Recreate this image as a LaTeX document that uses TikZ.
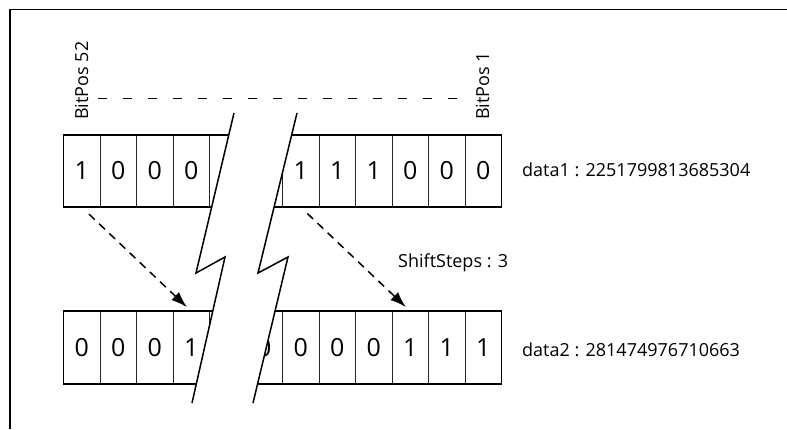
\documentclass[tikz,border=0pt]{standalone}
\usepackage{fontspec}
\setmainfont{Open Sans}
\usetikzlibrary{arrows.meta}
\begin{document}
\begin{tikzpicture}[x=1pt,y=-1pt,
  cell/.style={draw=black!85,line width=0.9pt,minimum width=36.5pt,minimum height=72.5pt,inner sep=0pt,outer sep=0pt,font=\fontsize{25}{30}\selectfont},
  outerbox/.style={line width=1.8pt},
  brk/.style={line width=1.5pt,line join=miter},
  dasharrow/.style={line width=1.5pt,dash pattern=on 8pt off 6pt,-{Latex[length=16pt,width=11pt]}},
  lbl/.style={font=\fontsize{18}{22}\selectfont,inner sep=0pt,anchor=base west},
  poslbl/.style={font=\fontsize{18}{22}\selectfont,inner sep=0pt,rotate=90,anchor=base west}
  ]
\useasboundingbox (0,0) rectangle (787,429);
% frame
\draw[line width=1.6pt] (10,429) -- (10,9.5) -- (787,9.5);
% top array
\foreach \v [count=\i] in {1,0,0,0,{},{},1,1,1,0,0,0}
  \node[cell] (t\i) at ({63.5+36.5*(\i-0.5)},171) {\v};
\draw[outerbox] (t1.north west) rectangle (t12.south east);
% bottom array
\foreach \v [count=\i] in {0,0,0,1,{},0,0,0,0,1,1,1}
  \node[cell] (b\i) at ({63.5+36.5*(\i-0.5)},347.5) {\v};
\draw[outerbox] (b1.north west) rectangle (b12.south east);
% break gap
\fill[white] (234,113) -- (196,273) -- (225,257) -- (192,403) -- (253,403) -- (288,257) -- (258,273) -- (297,113) -- cycle;
\draw[brk] (234,113) -- (196,273) -- (225,257) -- (192,403);
\draw[brk] (297,113) -- (258,273) -- (288,257) -- (253,403);
% bit position guide
\node[poslbl] (bp52) at (88,120) {BitPos 52};
\node[poslbl] (bp1) at (489,120) {BitPos 1};
\coordinate (gl) at (98,98.5);
\coordinate (gr) at (466,98.5);
\draw[line width=0.9pt,dash pattern=on 9pt off 16pt] (gl) -- (gr);
% shift arrows
\draw[dasharrow,shorten <=10pt,shorten >=6pt] (t1.south) -- (b4.north);
\draw[dasharrow,shorten <=9pt,shorten >=6pt] (t7.south) -- (b10.north);
% labels
\node[lbl] (d1) at (522,176) {data1 : 2251799813685304};
\node[lbl] (ss) at (398,267) {ShiftSteps : 3};
\node[lbl] (d2) at (522,356) {data2 : 281474976710663};
\end{tikzpicture}
\end{document}
